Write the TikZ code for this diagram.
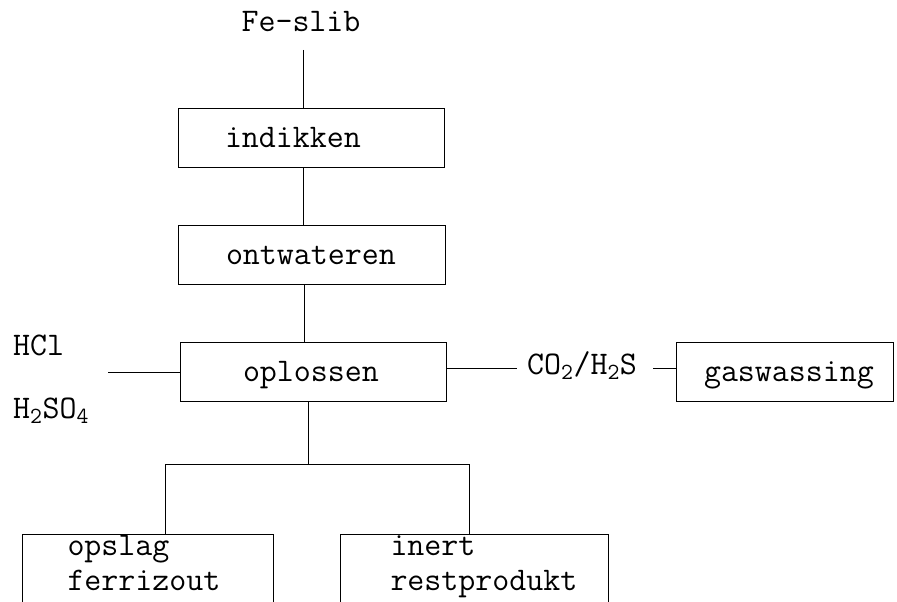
\documentclass[tikz,border=0pt]{standalone}
\usepackage{fontspec}
\newcommand{\twfont}{\ttfamily\fontsize{33}{35}\selectfont}
\begin{document}
\begin{tikzpicture}[x=1pt,y=-1pt,
  every node/.style={font=\twfont},
  ln/.style={line width=1pt},
  box/.style={draw, line width=1pt, inner xsep=0pt, inner ysep=0pt,
    minimum height=59pt, text width=#1, align=left, text height=19pt, text depth=0pt},
  openbox/.style={draw, line width=1pt, inner xsep=0pt, inner ysep=0pt,
    text width=#1, align=left, text height=21pt, text depth=80pt, anchor=north west},
  lbl/.style={inner sep=0pt, anchor=base west}]
\useasboundingbox (0,0) rectangle (897,602);

\node[inner sep=0pt, anchor=base] (feslib) at (301,32) {Fe-slib};
\node[box=266pt] (indikken) at (311,137.5) {\hspace*{47pt}indikken};
\node[box=267pt] (ontwateren) at (311.5,254.5) {\hspace*{48pt}ontwateren};
\node[box=266pt] (oplossen) at (313,372) {\hspace*{63pt}oplossen};
\node[box=217pt] (gaswassing) at (784.5,371.5) {\hspace*{28pt}gaswassing};
\node[openbox=251pt] (opslag) at (22,534) {\hspace*{45pt}opslag\\\hspace*{45pt}ferrizout};
\node[openbox=268pt] (inert) at (340,534) {\hspace*{50pt}inert\\\hspace*{50pt}restprodukt};

\node[lbl] (hcl) at (13,355) {HCl};
\node[lbl] (h2so4) at (13,418) {H\textsubscript{2}SO\textsubscript{4}};
\node[lbl] (co2) at (527,374) {CO\textsubscript{2}/H\textsubscript{2}S};

\coordinate (top) at (303,50);
\draw[ln] (top) -- (top |- indikken.north);
\draw[ln] (indikken.south -| top) -- (ontwateren.north -| top);
\coordinate (c2) at (304,0);
\draw[ln] (ontwateren.south -| c2) -- (oplossen.north -| c2);
\coordinate (j) at (308,464);
\coordinate (jl) at (165,464);
\coordinate (jr) at (469,464);
\draw[ln] (oplossen.south -| j) -- (j);
\draw[ln] (opslag.north -| jl) -- (jl) -- (jr) -- (inert.north -| jr);
\coordinate (acid) at (108,372);
\draw[ln] (acid) -- (oplossen.west);
\coordinate (gasend) at (517,368);
\draw[ln] (oplossen.east |- gasend) -- (gasend);
\coordinate (d1) at (653,368);
\draw[ln] (d1) -- (gaswassing.west |- d1);
\end{tikzpicture}
\end{document}
